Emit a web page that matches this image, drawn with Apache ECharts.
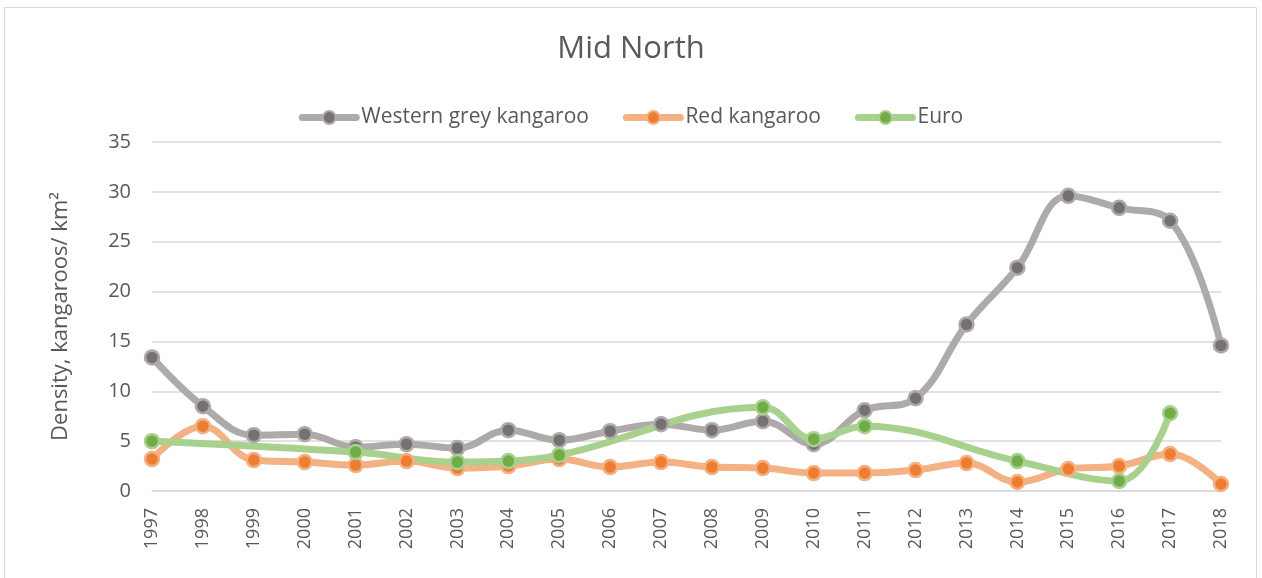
<!DOCTYPE html>
<html>
<head>
<meta charset="utf-8">
<script src="https://cdn.jsdelivr.net/npm/echarts@6/dist/echarts.min.js"></script>
<style>
  html, body { margin: 0; padding: 0; background: #fff; }
  #chart { width: 1262px; height: 578px; }
</style>
</head>
<body>
<div id="chart"></div>
<script>
  // 年份
  const years = ['1997', '1998', '1999', '2000', '2001', '2002', '2003', '2004', '2005', '2006', '2007',
    '2008', '2009', '2010', '2011', '2012', '2013', '2014', '2015', '2016', '2017', '2018']

  const westernGrey = [13.4, 8.5, 5.6, 5.7, 4.4, 4.7, 4.3, 6.1, 5.1, 6.0, 6.7,
    6.1, 7.0, 4.7, 8.1, 9.3, 16.7, 22.4, 29.6, 28.4, 27.1, 14.6]
  const redKangaroo = [3.2, 6.5, 3.1, 2.9, 2.6, 3.0, 2.3, 2.5, 3.2, 2.4, 2.9,
    2.4, 2.3, 1.8, 1.8, 2.1, 2.8, 0.9, 2.2, 2.5, 3.7, 0.7]
  const euro = [5.0, null, null, null, 3.9, null, 2.9, 3.0, 3.6, null, null,
    null, 8.4, 5.2, 6.5, null, null, 3.0, null, 1.0, 7.8, null]

  const yTicks = [0, 35, 5] // min, max, interval

  const font = '"Open Sans", sans-serif'
  const textColor = '#595959'

  function lineSeries(name, data, lineColor, dotColor) {
    return {
      name: name,
      type: 'line',
      data: data,
      smooth: 0.4,
      connectNulls: true,
      symbol: 'circle',
      symbolSize: 14,
      lineStyle: { color: lineColor, width: 7, cap: 'round', join: 'round' },
      itemStyle: { color: dotColor, borderColor: lineColor, borderWidth: 2.5 },
      emphasis: { disabled: true },
      z: 2
    }
  }

  const myChart = echarts.init(document.getElementById('chart'))
  const option = {
    animation: false,
    graphic: [{
      type: 'rect',
      shape: { x: 4.5, y: 7.5, width: 1252, height: 590 },
      style: { fill: 'none', stroke: '#d9d9d9', lineWidth: 1 },
      silent: true
    }],
    title: {
      text: 'Mid North',
      left: 'center',
      top: 29,
      textStyle: { fontFamily: font, fontSize: 31, fontWeight: 'normal', color: textColor }
    },
    legend: {
      top: 102,
      left: 'center',
      itemWidth: 54,
      itemHeight: 16,
      itemGap: 34,
      lineStyle: { width: 7, cap: 'round' },
      textStyle: { fontFamily: font, fontSize: 21, color: textColor },
      data: ['Western grey kangaroo', 'Red kangaroo', 'Euro']
    },
    grid: { left: 152, right: 41, top: 142, bottom: 87, containLabel: false },
    xAxis: {
      type: 'category',
      data: years,
      boundaryGap: false,
      axisLine: { lineStyle: { color: '#d9d9d9', width: 1.5 } },
      axisTick: { show: false },
      axisLabel: {
        rotate: 90,
        margin: 17,
        fontFamily: font,
        fontSize: 18,
        color: textColor
      }
    },
    yAxis: {
      type: 'value',
      min: yTicks[0],
      max: yTicks[1],
      interval: yTicks[2],
      name: 'Density, kangaroos/ km²',
      nameLocation: 'middle',
      nameGap: 80,
      nameTextStyle: { fontFamily: font, fontSize: 22, color: textColor },
      axisLine: { show: false },
      axisTick: { show: false },
      axisLabel: { margin: 21, fontFamily: font, fontSize: 20, color: textColor },
      splitLine: { lineStyle: { color: '#d9d9d9', width: 1.5 } }
    },
    series: [
      lineSeries('Western grey kangaroo', westernGrey, '#aeaaaa', '#767171'),
      lineSeries('Red kangaroo', redKangaroo, '#f4b183', '#ed7d31'),
      lineSeries('Euro', euro, '#a9d18e', '#70ad47')
    ]
  }
  myChart.setOption(option)

  window.addEventListener('resize', () => {
    myChart.resize()
  })
</script>
</body>
</html>
